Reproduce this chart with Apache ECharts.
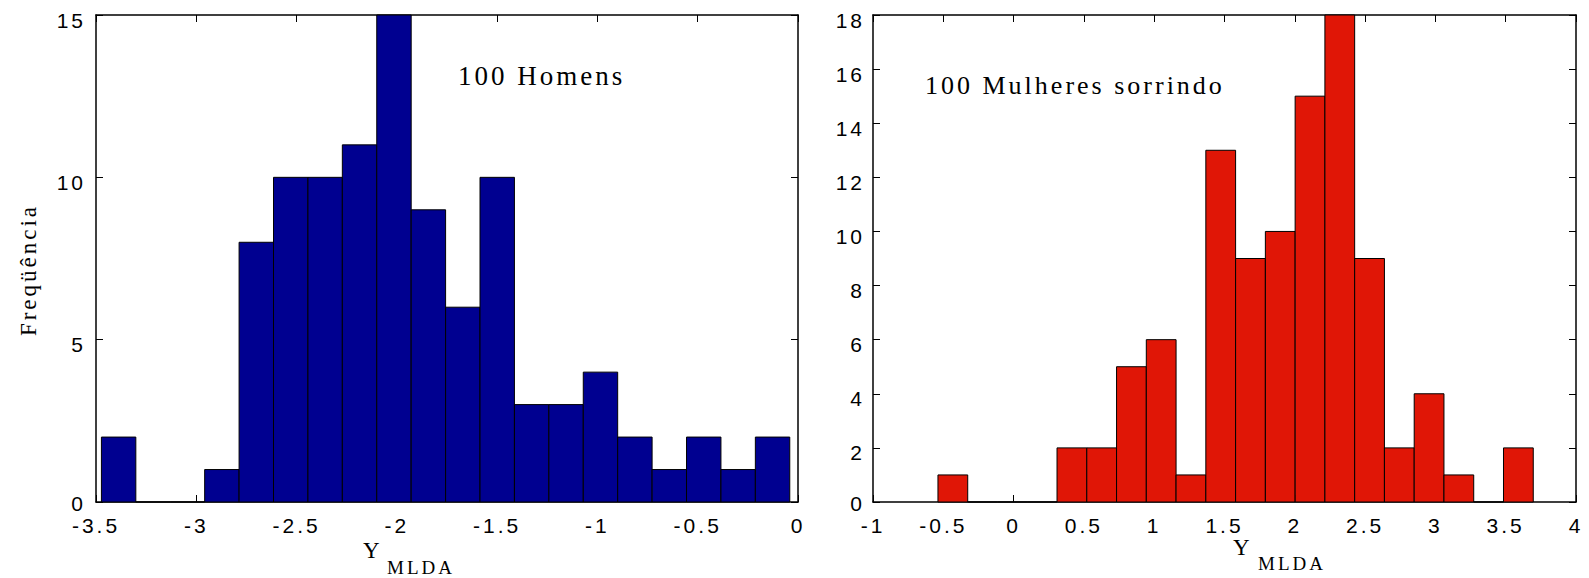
<!DOCTYPE html>
<html>
<head>
<meta charset="utf-8">
<script src="https://cdn.jsdelivr.net/npm/echarts@6/dist/echarts.min.js"></script>
<style>
    html, body { margin: 0; padding: 0; background: #fff; }
    #main { width: 1589px; height: 578px; }
    /* the original figure is stretched sideways, so its text looks spaced out */
    #main text { letter-spacing: 3px; }
</style>
</head>
<body>
<div id="main"></div>
<script>
// 100 Homens: counts per bin, bins start at menBinStart with equal width
var menCounts = [2, 0, 0, 1, 8, 10, 10, 11, 15, 9, 6, 10, 3, 3, 4, 2, 1, 2, 1, 2];
var menBinStart = -3.473;
var menBinWidth = 0.1716;
// 100 Mulheres sorrindo
var womenCounts = [1, 0, 0, 0, 2, 2, 5, 6, 1, 13, 9, 10, 15, 18, 9, 2, 4, 1, 0, 2];
var womenBinStart = -0.538;
var womenBinWidth = 0.2117;
// axis ranges
var menXRange = [-3.5, 0];
var menYRange = [0, 15];
var womenXRange = [-1, 4];
var womenYRange = [0, 18];

var sansFont = '"Liberation Sans", Arial, Helvetica, sans-serif';
var serifFont = '"Liberation Serif", "Times New Roman", serif';

// turn counts into [left edge, right edge, count]
function toBins(counts, start, width) {
    var arr = [];
    for (var i = 0; i < counts.length; i++) {
        arr.push([start + i * width, start + (i + 1) * width, counts[i]]);
    }
    return arr;
}

function histItem(color) {
    return function (params, api) {
        var a = api.coord([api.value(0), api.value(2)]);
        var b = api.coord([api.value(1), 0]);
        return {
            type: 'rect',
            shape: { x: a[0], y: a[1], width: b[0] - a[0], height: b[1] - a[1] },
            style: { fill: color, stroke: '#000', lineWidth: 1 }
        };
    };
}

function xAxisOf(grid, range, pos) {
    return {
        type: 'value', gridIndex: grid, position: pos,
        min: range[0], max: range[1], interval: 0.5,
        axisLine: { show: true, onZero: false, lineStyle: { color: '#000', width: 1.5 } },
        axisTick: { show: true, inside: true, length: 7, lineStyle: { color: '#000' } },
        axisLabel: {
            show: pos === 'bottom', interval: 0, margin: 13,
            color: '#000', fontSize: 21, fontFamily: sansFont
        },
        splitLine: { show: false }
    };
}

function yAxisOf(grid, range, step, pos, margin) {
    return {
        type: 'value', gridIndex: grid, position: pos,
        min: range[0], max: range[1], interval: step,
        axisLine: { show: true, onZero: false, lineStyle: { color: '#000', width: 1.5 } },
        axisTick: { show: true, inside: true, length: 7, lineStyle: { color: '#000' } },
        axisLabel: {
            show: pos === 'left', interval: 0, margin: margin,
            color: '#000', fontSize: 21, fontFamily: sansFont,
            // labels sit a little below their ticks in the original,
            // the bottom one less so it keeps clear of the x labels
            verticalAlign: 'top',
            formatter: function (v) {
                return v === range[0] ? '{z|' + v + '}' : '{n|' + v + '}';
            },
            rich: {
                n: { fontSize: 21, fontFamily: sansFont, color: '#000', lineHeight: 10 },
                z: { fontSize: 21, fontFamily: sansFont, color: '#000', lineHeight: 2 }
            }
        },
        splitLine: { show: false }
    };
}

var chartDom = document.getElementById('main');
var myChart = echarts.init(chartDom, null, { renderer: 'svg' });
var option;

option = {
    animation: false,
    backgroundColor: '#fff',
    grid: [
        { left: 96, top: 15, width: 702, height: 487 },
        { left: 873, top: 15, width: 703, height: 487 }
    ],
    xAxis: [
        xAxisOf(0, menXRange, 'bottom'),
        xAxisOf(0, menXRange, 'top'),
        xAxisOf(1, womenXRange, 'bottom'),
        xAxisOf(1, womenXRange, 'top')
    ],
    yAxis: [
        yAxisOf(0, menYRange, 5, 'left', 10),
        yAxisOf(0, menYRange, 5, 'right', 10),
        yAxisOf(1, womenYRange, 2, 'left', 8),
        yAxisOf(1, womenYRange, 2, 'right', 8)
    ],
    series: [
        {
            name: '100 Homens',
            type: 'custom',
            xAxisIndex: 0, yAxisIndex: 0,
            renderItem: histItem('#000090'),
            encode: { x: [0, 1], y: 2 },
            data: toBins(menCounts, menBinStart, menBinWidth)
        },
        {
            name: '100 Mulheres sorrindo',
            type: 'custom',
            xAxisIndex: 2, yAxisIndex: 2,
            renderItem: histItem('#e01606'),
            encode: { x: [0, 1], y: 2 },
            data: toBins(womenCounts, womenBinStart, womenBinWidth)
        }
    ],
    graphic: [
        {
            type: 'text', x: 28, y: 270, rotation: Math.PI / 2,
            style: { text: 'Freqüência', font: '23px ' + serifFont, fill: '#000', align: 'center', verticalAlign: 'middle' }
        },
        {
            type: 'text', x: 458, y: 76,
            style: { text: '100 Homens', font: '27px ' + serifFont, fill: '#000', align: 'left', verticalAlign: 'middle' }
        },
        {
            type: 'text', x: 925, y: 85,
            style: { text: '100 Mulheres sorrindo', font: '26px ' + serifFont, fill: '#000', align: 'left', verticalAlign: 'middle' }
        },
        // x axis titles: Y with subscript MLDA
        {
            type: 'text', x: 363, y: 550,
            style: { text: 'Y', font: '23px ' + serifFont, fill: '#000', align: 'left', verticalAlign: 'middle' }
        },
        {
            type: 'text', x: 387, y: 567,
            style: { text: 'MLDA', font: '19px ' + serifFont, fill: '#000', align: 'left', verticalAlign: 'middle' }
        },
        {
            type: 'text', x: 1233, y: 547,
            style: { text: 'Y', font: '23px ' + serifFont, fill: '#000', align: 'left', verticalAlign: 'middle' }
        },
        {
            type: 'text', x: 1258, y: 563,
            style: { text: 'MLDA', font: '19px ' + serifFont, fill: '#000', align: 'left', verticalAlign: 'middle' }
        }
    ]
};

option && myChart.setOption(option);
</script>
</body>
</html>
